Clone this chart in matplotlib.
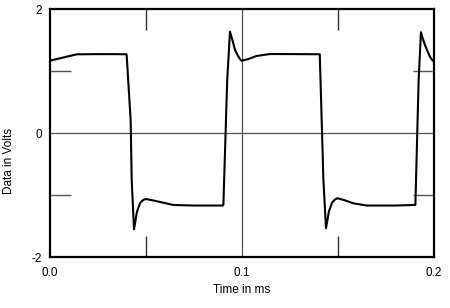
import matplotlib
matplotlib.use("Agg")
import matplotlib.pyplot as plt

plt.rcParams['font.family'] = ['Liberation Sans', 'DejaVu Sans']

# Waveform breakpoints (time in ms, volts)
time_ms = [0.0, 0.0045, 0.0087, 0.0139, 0.0250, 0.0350, 0.0399,
           0.0420, 0.04255, 0.04375, 0.0453, 0.0469, 0.0485, 0.0500,
           0.0540, 0.0590, 0.0642, 0.0750, 0.0900, 0.0903,
           0.0923, 0.09375, 0.0950, 0.0964, 0.0978, 0.0990, 0.0998,
           0.1030, 0.1076, 0.1146, 0.1300, 0.1405,
           0.1424, 0.14375, 0.1453, 0.1470, 0.1485, 0.1497, 0.1530,
           0.1580, 0.1650, 0.1800, 0.1903,
           0.1920, 0.1932, 0.1942, 0.1953, 0.1966, 0.1979, 0.1990, 0.2000]
volts = [1.166, 1.20, 1.231, 1.269, 1.272, 1.272, 1.269,
         0.21, -0.758, -1.553, -1.27, -1.13, -1.08, -1.065,
         -1.09, -1.124, -1.161, -1.17, -1.17, -1.16,
         0.855, 1.634, 1.50, 1.339, 1.25, 1.189, 1.166,
         1.19, 1.242, 1.274, 1.272, 1.27,
         -0.758, -1.537, -1.26, -1.12, -1.07, -1.053, -1.08,
         -1.134, -1.17, -1.17, -1.16,
         0.85, 1.624, 1.52, 1.42, 1.32, 1.23, 1.18, 1.15]

x_labels = ["0.0", "0.1", "0.2"]
x_label_pos = [0.0, 0.1, 0.2]
y_labels = ["-2", "0", "2"]
y_label_pos = [-2, 0, 2]
x_minor = [0.05, 0.15]
y_minor = [-1, 1]

fig = plt.figure(figsize=(4.5, 3.08), dpi=100)
ax = fig.add_axes([50/450, 1-257/308, 384/450, 248/308])

ax.set_xlim(0, 0.2)
ax.set_ylim(-2, 2)

# full grid lines at centre
ax.axvline(0.1, color='#555555', lw=0.9, zorder=1)
ax.axhline(0.0, color='#555555', lw=0.9, zorder=1)

ax.plot(time_ms, volts, color='black', lw=1.5, zorder=3, solid_joinstyle='round')

ax.set_xticks(x_label_pos)
ax.set_xticklabels(x_labels)
ax.set_yticks(y_label_pos)
ax.set_yticklabels(y_labels)
ax.tick_params(axis='both', which='major', length=0, labelsize=8.5, colors='black')
ax.tick_params(axis='x', pad=7)
ax.tick_params(axis='y', pad=6)

ax.set_xticks(x_minor, minor=True)
ax.set_yticks(y_minor, minor=True)
ax.tick_params(axis='x', which='minor', direction='in', length=15, width=1.0,
               color='#333333', top=True, bottom=True)
ax.tick_params(axis='y', which='minor', direction='in', length=15, width=1.0,
               color='#555555', left=True, right=True)

for s in ax.spines.values():
    s.set_linewidth(1.6)
    s.set_color('black')

fig.text(242/450, 1-290/308, "Time in ms", ha='center', va='center', fontsize=8.5)
fig.text(9/450, 1-161/308, "Data in Volts", ha='center', va='center',
         rotation=90, fontsize=8.5)

fig.savefig("out.png", dpi=100)
